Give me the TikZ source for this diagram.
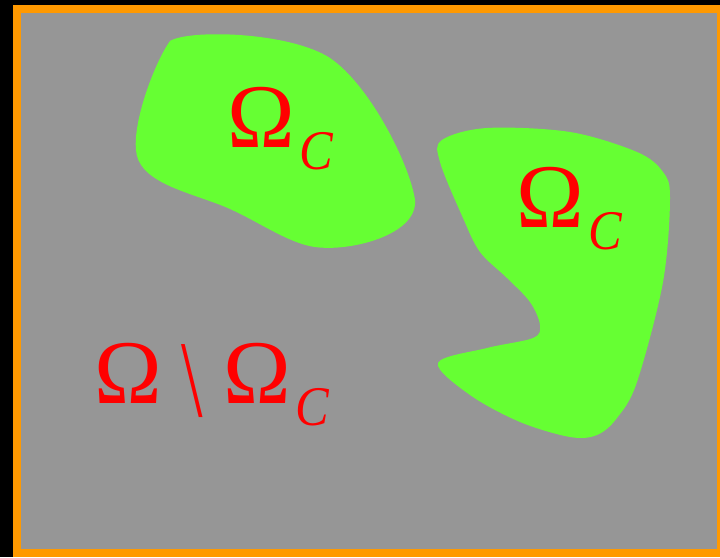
\documentclass[tikz,border=0pt]{standalone}
\usepackage{fontspec}
\setmainfont{Liberation Serif}
\usepackage{tikz}
\definecolor{frameorange}{HTML}{FF9900}
\definecolor{domgray}{HTML}{969696}
\definecolor{domgreen}{HTML}{66FF33}
% Omega with a lowered italic C
\newcommand{\omsubc}{Ω\hspace{5pt}\raisebox{-22pt}{\fontsize{56}{60}\selectfont\itshape\scalebox{0.9}[1]{C}}}

\begin{document}
\begin{tikzpicture}[x=1pt, y=-1pt,
  region/.style={fill=domgreen},
  lab/.style={text=red, inner sep=0pt, anchor=base west, font=\fontsize{91}{100}\selectfont}]
\useasboundingbox (0,0) rectangle (720,557);
\fill[black] (0,0) rectangle (720,557);
\fill[frameorange] (13,5) rectangle (725,557);
\fill[domgray] (21,13) rectangle (717,549);
% first control region
\fill[region] (170,41) .. controls (190,29) and (290,32) .. (330,58)
  .. controls (370,85) and (410,165) .. (415,200)
  .. controls (418,235) and (350,252) .. (315,247)
  .. controls (285,243) and (250,215) .. (215,203)
  .. controls (180,190) and (138,180) .. (136,150)
  .. controls (133,120) and (155,62) .. (170,41) -- cycle;
% second control region
\fill[region] plot[smooth cycle, tension=0.55] coordinates {
  (442,140) (487,128) (570,132) (637,152) (663,172) (670,198)
  (663,282) (637,382) (617,418) (597,435) (570,437) (520,422)
  (470,395) (438,363) (487,348) (533,338) (540,325) (530,302)
  (507,278) (480,252) (463,218) (440,162)};
\node[lab] (omc1) at (227,147) {\omsubc};
\node[lab] (omc2) at (516,227) {\omsubc};
\node[lab] (rest) at (94,403) {Ω\hspace{20pt}\raisebox{-13pt}{\scalebox{0.85}[1.2]{\textbackslash}}\hspace{20pt}\omsubc};
\end{tikzpicture}
\end{document}
